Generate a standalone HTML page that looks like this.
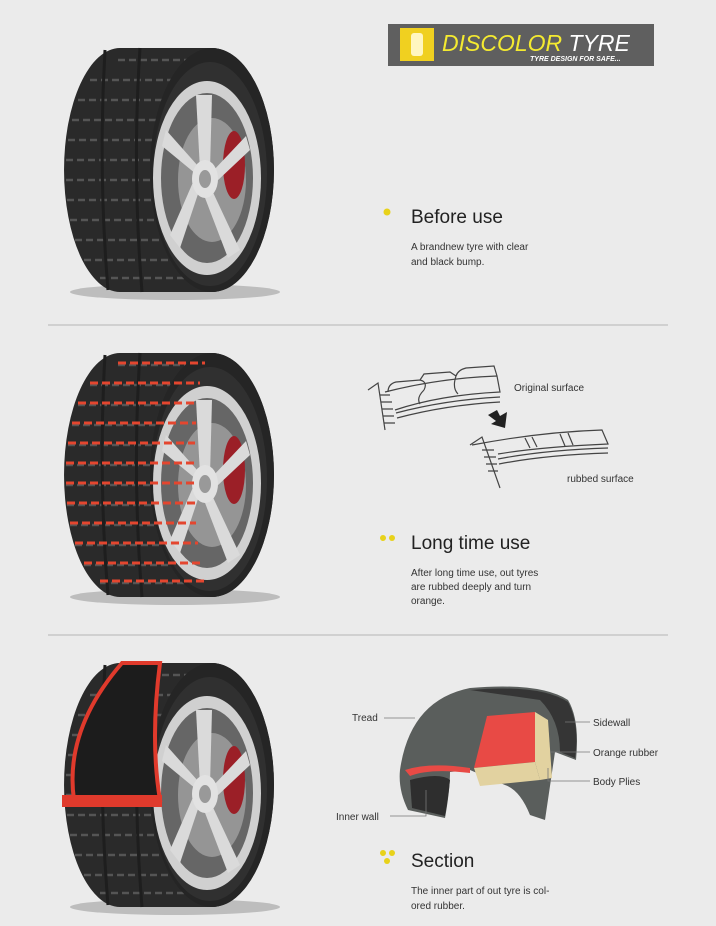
<!DOCTYPE html>
<html><head><meta charset="utf-8"><style>
html,body{margin:0;padding:0;background:#ebebeb;}
svg{display:block}
text{font-family:"Liberation Sans",sans-serif;}
</style></head><body>
<svg width="716" height="926" viewBox="0 0 716 926" xmlns="http://www.w3.org/2000/svg">
<defs>
<g id="tire">
  <ellipse cx="175" cy="292" rx="105" ry="8" fill="#bdbdbd"/>
  <path d="M120 48 L212 48 A62 122 0 0 1 212 292 L120 292 A56 122 0 0 1 120 48 Z" fill="#2a2a2a"/>
  <g stroke="#555" stroke-width="2.5" stroke-dasharray="7 4">
    <path d="M118 60 H205" /><path d="M90 80 H200"/><path d="M78 100 H198"/><path d="M72 120 H196"/><path d="M68 140 H195"/><path d="M66 160 H195"/><path d="M66 180 H195"/><path d="M67 200 H195"/><path d="M70 220 H196"/><path d="M75 240 H198"/><path d="M84 260 H200"/><path d="M100 278 H205"/>
  </g>
  <path d="M105 50 Q98 170 108 290 M140 48 Q132 170 142 292" stroke="#1e1e1e" stroke-width="3" fill="none"/>
  <ellipse cx="212" cy="170" rx="62" ry="122" fill="#252525"/>
  <ellipse cx="210" cy="174" rx="57" ry="112" fill="#303030"/>
  <ellipse cx="207" cy="178" rx="54" ry="97" fill="#d0d0d0"/>
  <ellipse cx="207" cy="178" rx="46" ry="85" fill="#666"/>
  <ellipse cx="212" cy="180" rx="34" ry="62" fill="#959595"/>
  <ellipse cx="234" cy="165" rx="11" ry="34" fill="#9b1f27"/>
  <g fill="#dadada">
    <polygon points="200,170 210,170 212,95 196,95"/>
    <polygon points="212,172 216,182 250,150 246,136"/>
    <polygon points="210,186 202,190 228,258 240,250"/>
    <polygon points="200,188 194,180 170,235 180,248"/>
    <polygon points="196,174 198,166 166,130 162,146"/>
  </g>
  <ellipse cx="205" cy="179" rx="13" ry="19" fill="#e2e2e2"/>
  <ellipse cx="205" cy="179" rx="6" ry="9" fill="#999"/>
</g>
</defs>

<!-- logo -->
<rect x="388" y="24" width="266" height="42" fill="#5f5f5f"/>
<rect x="400" y="28" width="34" height="33" fill="#f0d020"/>
<rect x="411" y="33" width="12" height="23" rx="3" fill="#fff6c0"/>
<text x="442" y="51" font-size="23" font-style="italic" fill="#f4ea30">DISCOLOR <tspan fill="#fff">TYRE</tspan></text>
<text x="530" y="61" font-size="7" font-weight="bold" font-style="italic" fill="#fff">TYRE DESIGN FOR SAFE...</text>

<!-- tires -->
<use href="#tire"/>
<use href="#tire" y="305"/>
<g stroke="#e4462f" stroke-width="3" stroke-dasharray="8 4">
  <path d="M118 363 H205" /><path d="M90 383 H200"/><path d="M78 403 H198"/><path d="M72 423 H196"/><path d="M68 443 H195"/><path d="M66 463 H195"/><path d="M66 483 H195"/><path d="M67 503 H195"/><path d="M70 523 H196"/><path d="M75 543 H198"/><path d="M84 563 H200"/><path d="M100 581 H205"/>
</g>
<use href="#tire" y="615"/>
<path d="M122 663 H160 Q150 740 160 800 H74 Q64 730 122 663 Z" fill="#1c1c1c" stroke="#e03a2c" stroke-width="4"/>
<rect x="62" y="795" width="100" height="12" fill="#e03a2c"/>

<!-- dividers -->
<line x1="48" y1="325" x2="668" y2="325" stroke="#b5b5b5"/>
<line x1="48" y1="635" x2="668" y2="635" stroke="#b5b5b5"/>

<!-- text section 1 -->
<circle cx="387" cy="212" r="3.5" fill="#e8d21a"/>
<text x="411" y="223" font-size="19" fill="#222">Before use</text>
<text x="411" y="250" font-size="10" fill="#333">A brandnew tyre with clear</text>
<text x="411" y="265" font-size="10" fill="#333">and black bump.</text>

<!-- section 2 diagrams -->
<g fill="none" stroke="#444" stroke-width="1.2">
  <path d="M385 392 Q440 378 497 376 L500 392 Q440 395 395 410"/>
  <path d="M396 413 Q445 400 500 397 M397 418 Q446 405 500 402"/>
  <path d="M368 390 L378 383 L385 430"/>
  <path d="M380 395 H390 M381 402 H392 M382 409 H393 M383 416 H394 M384 423 H395"/>
  <path d="M388 392 Q388 384 396 382 L420 380 Q428 382 424 390 M420 380 L424 374 L450 372 L456 376 M456 376 Q458 370 466 368 L494 366 L497 376"/>
  <path d="M424 390 Q416 398 420 404 M456 376 Q452 388 458 394"/>
  <path d="M472 445 Q540 432 602 430 L608 444 Q540 447 498 454"/>
  <path d="M498 459 Q545 450 608 448 M499 464 Q545 455 608 453"/>
  <path d="M470 445 L482 437 L500 488"/>
  <path d="M482 450 H494 M484 457 H496 M486 464 H497 M488 471 H498"/>
  <path d="M525 438 L530 448 M532 437 L537 447 M560 434 L565 446 M568 433 L573 445"/>
</g>
<polygon points="488,415 497,410 500,416 507,412 505,428 491,424 496,421" fill="#222"/>
<text x="514" y="391" font-size="10" fill="#333">Original surface</text>
<text x="567" y="482" font-size="10" fill="#333">rubbed surface</text>

<circle cx="383" cy="538" r="3" fill="#e8d21a"/><circle cx="392" cy="538" r="3" fill="#e8d21a"/>
<text x="411" y="549" font-size="19" fill="#222">Long time use</text>
<text x="411" y="576" font-size="10" fill="#333">After long time use, out tyres</text>
<text x="411" y="590" font-size="10" fill="#333">are rubbed deeply and turn</text>
<text x="411" y="604" font-size="10" fill="#333">orange.</text>

<!-- section 3 diagram -->
<path d="M400 770 Q410 700 470 688 Q540 682 568 700 Q580 720 576 760 L555 752 L545 820 L530 815 Q520 790 505 785 L470 770 L450 772 Q450 790 445 818 L408 810 Q398 790 400 770 Z" fill="#5a5e5c"/>
<path d="M470 690 Q540 684 568 702 Q580 725 575 758 L560 752 Q560 720 540 700 Z" fill="#353535"/>
<path d="M487 716 L535 712 L535 762 L474 768 Z" fill="#e84a45"/>
<path d="M474 768 L535 762 L540 780 L480 786 Z" fill="#e2d2a0"/>
<path d="M535 712 L548 720 L552 778 L540 780 L535 762 Z" fill="#e2d2a0"/>
<path d="M405 770 Q430 762 470 768 L470 773 Q430 768 410 776 Z" fill="#e84a45"/>
<path d="M410 780 Q440 772 450 780 Q448 800 445 816 L412 808 Z" fill="#2e2e2e"/>
<g stroke="#777" stroke-width="0.8">
  <line x1="384" y1="718" x2="415" y2="718"/>
  <line x1="565" y1="722" x2="590" y2="722"/>
  <line x1="550" y1="752" x2="590" y2="752"/>
  <polyline points="548,768 548,781 590,781" fill="none"/>
  <polyline points="426,790 426,816 390,816" fill="none"/>
</g>
<text x="352" y="721" font-size="10" fill="#333">Tread</text>
<text x="593" y="726" font-size="10" fill="#333">Sidewall</text>
<text x="593" y="756" font-size="10" fill="#333">Orange rubber</text>
<text x="593" y="785" font-size="10" fill="#333">Body Plies</text>
<text x="336" y="820" font-size="10" fill="#333">Inner wall</text>

<circle cx="383" cy="853" r="3" fill="#e8d21a"/><circle cx="392" cy="853" r="3" fill="#e8d21a"/><circle cx="387" cy="861" r="3" fill="#e8d21a"/>
<text x="411" y="867" font-size="19" fill="#222">Section</text>
<text x="411" y="894" font-size="10" fill="#333">The inner part of out tyre is col-</text>
<text x="411" y="909" font-size="10" fill="#333">ored rubber.</text>
</svg>
</body></html>
